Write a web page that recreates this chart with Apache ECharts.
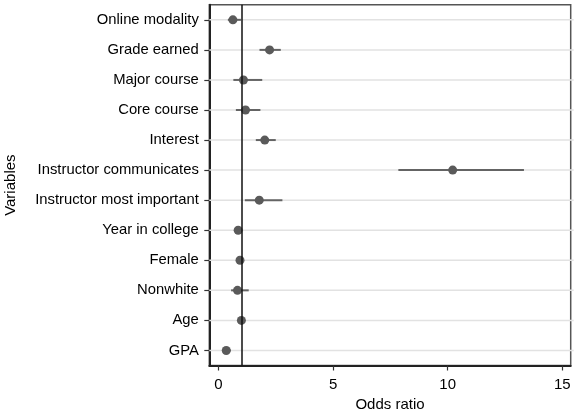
<!DOCTYPE html>
<html>
<head>
<meta charset="utf-8">
<script src="https://cdn.jsdelivr.net/npm/echarts@6/dist/echarts.min.js"></script>
<style>
html,body{margin:0;padding:0;background:#fff;}
#c{width:576px;height:410px;}
</style>
</head>
<body>
<div id="c"></div>
<script>
var categories = ["Online modality","Grade earned","Major course","Core course","Interest","Instructor communicates","Instructor most important","Year in college","Female","Nonwhite","Age","GPA"];
var oddsRatio = [0.63, 2.23, 1.09, 1.18, 2.02, 10.22, 1.78, 0.86, 0.94, 0.83, 1.0, 0.34];
var ciLow    = [0.41, 1.79, 0.65, 0.76, 1.63, 7.85, 1.15, 0.80, 0.87, 0.55, 0.96, 0.20];
var ciHigh   = [0.98, 2.72, 1.91, 1.83, 2.50, 13.33, 2.79, 0.93, 1.01, 1.32, 1.04, 0.54];
var xTicks = [0, 5, 10, 15];
var refValue = 1;

var FONT = '"Liberation Sans", Arial, sans-serif';
var chart = echarts.init(document.getElementById('c'), null, {renderer: 'canvas'});

var gridData = categories.map(function (c) { return [0, c]; });
var ciData = categories.map(function (c, i) { return [ciLow[i], c, ciHigh[i]]; });
var ptData = categories.map(function (c, i) { return [oddsRatio[i], c]; });

chart.setOption({
  animation: false,
  backgroundColor: '#fff',
  grid: {left: 209.3, right: 5.3, top: 4.8, bottom: 44.5, show: true, borderColor: '#555', borderWidth: 1.5,
         containLabel: false, outerBoundsMode: 'none'},
  xAxis: {
    type: 'value', min: -0.4, max: 15.37,
    name: 'Odds ratio', nameLocation: 'middle', nameGap: 24,
    nameTextStyle: {fontFamily: FONT, fontSize: 15, color: '#000'},
    axisLine: {show: true, onZero: false, lineStyle: {color: '#222', width: 2}},
    axisTick: {show: true, length: 5, customValues: xTicks, lineStyle: {color: '#333', width: 1.2}},
    axisLabel: {customValues: xTicks, margin: 11.5, fontFamily: FONT, fontSize: 15, color: '#000'},
    splitLine: {show: false}
  },
  yAxis: {
    type: 'category', data: categories, inverse: true, boundaryGap: true,
    name: 'Variables', nameLocation: 'middle', nameGap: 191, nameRotate: 90,
    nameTextStyle: {fontFamily: FONT, fontSize: 15, color: '#000'},
    axisLine: {show: true, onZero: false, lineStyle: {color: '#222', width: 2}},
    axisTick: {show: true, alignWithLabel: true, length: 5, lineStyle: {color: '#333', width: 1.2}},
    axisLabel: {margin: 10.5, fontFamily: FONT, fontSize: 14.8, color: '#000'},
    splitLine: {show: false}
  },
  series: [
    {
      type: 'custom',
      data: gridData,
      encode: {x: 0, y: 1},
      silent: true,
      z: 1,
      renderItem: function (params, api) {
        var p = api.coord([0, api.value(1)]);
        var cs = params.coordSys;
        return {type: 'line', shape: {x1: cs.x, y1: p[1], x2: cs.x + cs.width + 3, y2: p[1]},
                style: {stroke: '#e2e2e2', lineWidth: 1.5}};
      }
    },
    {
      type: 'custom',
      data: ciData,
      encode: {x: [0, 2], y: 1},
      z: 2,
      renderItem: function (params, api) {
        var a = api.coord([api.value(0), api.value(1)]);
        var b = api.coord([api.value(2), api.value(1)]);
        return {type: 'line', shape: {x1: a[0], y1: a[1], x2: b[0], y2: b[1]},
                style: {stroke: '#646464', lineWidth: 2}};
      }
    },
    {
      type: 'scatter',
      data: ptData,
      symbol: 'circle', symbolSize: 9,
      itemStyle: {color: '#5a5a5a', opacity: 1},
      z: 4,
      markLine: {
        silent: true, symbol: 'none', label: {show: false},
        lineStyle: {color: '#111', width: 1.5, type: 'solid'},
        data: [{xAxis: refValue}]
      }
    }
  ]
});
</script>
</body>
</html>
